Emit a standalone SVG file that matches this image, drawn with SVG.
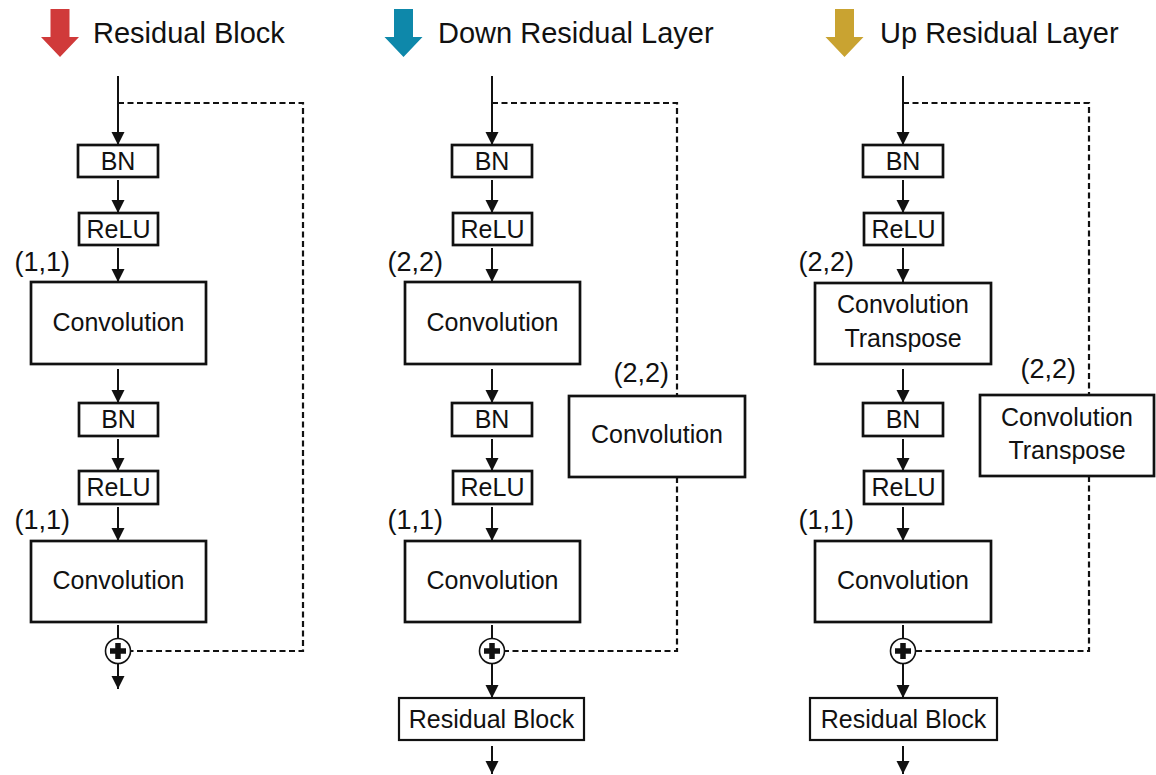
<svg xmlns="http://www.w3.org/2000/svg" width="1156" height="775" viewBox="0 0 1156 775">
  <style>
    .title { font-family: "Liberation Sans", Arial, sans-serif; font-size: 29px; fill: #111; }
    .lbl { font-family: "Liberation Sans", Arial, sans-serif; font-size: 25px; fill: #111; text-anchor: middle; }
    .stride { font-family: "Liberation Sans", Arial, sans-serif; font-size: 27px; fill: #111; text-anchor: end; }
    .box { fill: #fff; stroke: #111; stroke-width: 2.7; }
    .thin { fill: #fff; stroke: #111; stroke-width: 2.2; }
    .flow { stroke: #111; stroke-width: 2; fill: none; marker-end: url(#arrow); }
    .skip { stroke: #111; stroke-width: 2.2; fill: none; stroke-dasharray: 6 3.5; }
    .sum circle { fill: #fff; stroke: #111; stroke-width: 1.6; }
    .sum path { stroke: #111; stroke-width: 5.5; fill: none; }
  </style>
  <defs>
    <marker id="arrow" viewBox="0 0 13 16" refX="13" refY="8" markerWidth="13" markerHeight="16" markerUnits="userSpaceOnUse" orient="auto">
      <path d="M0,1.5 L13,8 L0,14.5 Z" fill="#111"/>
    </marker>
    <path id="hdrArrow" d="M-9.5,0 H9.5 V28 H19 L0,48 L-19,28 H-9.5 Z"/>
  </defs>
  <rect width="1156" height="775" fill="#fff"/>

  <!-- headers -->
  <g id="header-residual-block">
    <use href="#hdrArrow" x="60" y="9" fill="#d03a3a"/>
    <text class="title" x="93" y="43">Residual Block</text>
  </g>
  <g id="header-down-layer">
    <use href="#hdrArrow" x="403.5" y="9" fill="#0e88aa"/>
    <text class="title" x="438" y="43">Down Residual Layer</text>
  </g>
  <g id="header-up-layer">
    <use href="#hdrArrow" x="844.5" y="9" fill="#c9a331"/>
    <text class="title" x="880" y="43">Up Residual Layer</text>
  </g>

  <!-- connectors -->
  <g id="connectors">
    <!-- column 1 -->
    <line class="flow" x1="118" y1="76" x2="118" y2="145"/>
    <line class="flow" x1="118" y1="180" x2="118" y2="213"/>
    <line class="flow" x1="118" y1="248" x2="118" y2="282"/>
    <line class="flow" x1="118" y1="369" x2="118" y2="403"/>
    <line class="flow" x1="118" y1="439" x2="118" y2="471"/>
    <line class="flow" x1="118" y1="507" x2="118" y2="541"/>
    <line stroke="#111" stroke-width="2" x1="118" y1="625" x2="118" y2="638"/>
    <line class="flow" x1="118" y1="663" x2="118" y2="689"/>
    <polyline class="skip" points="118,103 303,103 303,651 131,651"/>

    <!-- column 2 -->
    <line class="flow" x1="492" y1="76" x2="492" y2="145"/>
    <line class="flow" x1="492" y1="180" x2="492" y2="213"/>
    <line class="flow" x1="492" y1="248" x2="492" y2="282"/>
    <line class="flow" x1="492" y1="369" x2="492" y2="403"/>
    <line class="flow" x1="492" y1="439" x2="492" y2="471"/>
    <line class="flow" x1="492" y1="507" x2="492" y2="541"/>
    <line stroke="#111" stroke-width="2" x1="492" y1="625" x2="492" y2="638"/>
    <line class="flow" x1="492" y1="663" x2="492" y2="698"/>
    <line class="flow" x1="492" y1="746" x2="492" y2="774"/>
    <polyline class="skip" points="492,103 677,103 677,396"/>
    <polyline class="skip" points="677,477 677,651 505,651"/>

    <!-- column 3 -->
    <line class="flow" x1="903" y1="76" x2="903" y2="145"/>
    <line class="flow" x1="903" y1="180" x2="903" y2="213"/>
    <line class="flow" x1="903" y1="248" x2="903" y2="282"/>
    <line class="flow" x1="903" y1="369" x2="903" y2="403"/>
    <line class="flow" x1="903" y1="439" x2="903" y2="471"/>
    <line class="flow" x1="903" y1="507" x2="903" y2="541"/>
    <line stroke="#111" stroke-width="2" x1="903" y1="625" x2="903" y2="638"/>
    <line class="flow" x1="903" y1="663" x2="903" y2="698"/>
    <line class="flow" x1="903" y1="746" x2="903" y2="774"/>
    <polyline class="skip" points="903,103 1089,103 1089,395"/>
    <polyline class="skip" points="1089,476 1089,651 916,651"/>
  </g>

  <!-- column 1: residual block -->
  <g id="c1-bn1"><rect class="box" x="78" y="145" width="80" height="32"/><text class="lbl" x="118" y="170">BN</text></g>
  <g id="c1-relu1"><rect class="box" x="79" y="213" width="79" height="32"/><text class="lbl" x="118.5" y="238">ReLU</text></g>
  <g id="c1-conv1"><rect class="box" x="31" y="282" width="175" height="82"/><text class="lbl" x="118.5" y="331">Convolution</text></g>
  <text class="stride" x="70" y="271">(1,1)</text>
  <g id="c1-bn2"><rect class="box" x="79" y="403" width="79" height="33"/><text class="lbl" x="118.5" y="428">BN</text></g>
  <g id="c1-relu2"><rect class="box" x="79" y="471" width="79" height="33"/><text class="lbl" x="118.5" y="496">ReLU</text></g>
  <g id="c1-conv2"><rect class="box" x="31" y="541" width="175" height="81"/><text class="lbl" x="118.5" y="589">Convolution</text></g>
  <text class="stride" x="70" y="529">(1,1)</text>
  <g id="c1-sum" class="sum"><circle cx="118" cy="651" r="12.5"/><path d="M110,651 H126 M118,643 V659"/></g>

  <!-- column 2: down residual layer -->
  <g id="c2-bn1"><rect class="box" x="452" y="145" width="80" height="32"/><text class="lbl" x="492" y="170">BN</text></g>
  <g id="c2-relu1"><rect class="box" x="453" y="213" width="79" height="32"/><text class="lbl" x="492.5" y="238">ReLU</text></g>
  <g id="c2-conv1"><rect class="box" x="405" y="282" width="175" height="82"/><text class="lbl" x="492.5" y="331">Convolution</text></g>
  <text class="stride" x="443" y="271">(2,2)</text>
  <g id="c2-bn2"><rect class="box" x="452" y="403" width="80" height="33"/><text class="lbl" x="492" y="428">BN</text></g>
  <g id="c2-relu2"><rect class="box" x="453" y="471" width="79" height="33"/><text class="lbl" x="492.5" y="496">ReLU</text></g>
  <g id="c2-conv2"><rect class="box" x="405" y="541" width="175" height="81"/><text class="lbl" x="492.5" y="589">Convolution</text></g>
  <text class="stride" x="443" y="529">(1,1)</text>
  <g id="c2-skip-conv"><rect class="box" x="569" y="396" width="176" height="81"/><text class="lbl" x="657" y="443">Convolution</text></g>
  <text class="stride" x="669" y="382">(2,2)</text>
  <g id="c2-sum" class="sum"><circle cx="492" cy="651" r="12.5"/><path d="M484,651 H500 M492,643 V659"/></g>
  <g id="c2-resblock"><rect class="thin" x="399" y="698" width="185" height="42"/><text class="lbl" x="491.5" y="728">Residual Block</text></g>

  <!-- column 3: up residual layer -->
  <g id="c3-bn1"><rect class="box" x="863" y="145" width="80" height="32"/><text class="lbl" x="903" y="170">BN</text></g>
  <g id="c3-relu1"><rect class="box" x="864" y="213" width="79" height="32"/><text class="lbl" x="903.5" y="238">ReLU</text></g>
  <g id="c3-convt1"><rect class="box" x="815" y="283" width="176" height="81"/><text class="lbl" x="903" y="313">Convolution</text><text class="lbl" x="903" y="347">Transpose</text></g>
  <text class="stride" x="854" y="271">(2,2)</text>
  <g id="c3-bn2"><rect class="box" x="863" y="403" width="80" height="33"/><text class="lbl" x="903" y="428">BN</text></g>
  <g id="c3-relu2"><rect class="box" x="864" y="471" width="79" height="33"/><text class="lbl" x="903.5" y="496">ReLU</text></g>
  <g id="c3-conv2"><rect class="box" x="815" y="541" width="176" height="81"/><text class="lbl" x="903" y="589">Convolution</text></g>
  <text class="stride" x="854" y="529">(1,1)</text>
  <g id="c3-skip-convt"><rect class="box" x="980" y="395" width="174" height="81"/><text class="lbl" x="1067" y="426">Convolution</text><text class="lbl" x="1067" y="459">Transpose</text></g>
  <text class="stride" x="1076" y="378">(2,2)</text>
  <g id="c3-sum" class="sum"><circle cx="903" cy="651" r="12.5"/><path d="M895,651 H911 M903,643 V659"/></g>
  <g id="c3-resblock"><rect class="thin" x="810" y="698" width="187" height="42"/><text class="lbl" x="903.5" y="728">Residual Block</text></g>
</svg>
